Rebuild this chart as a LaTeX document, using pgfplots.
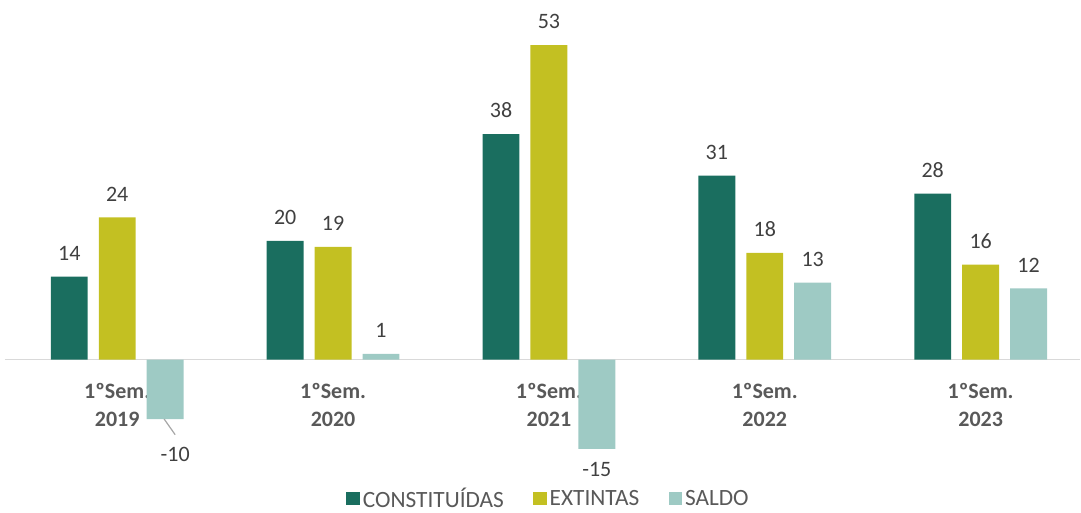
\documentclass[border=0pt]{standalone}
\usepackage{fontspec}
\setmainfont{Carlito}
\usepackage{pgfplots}
\pgfplotsset{compat=1.18}

\definecolor{cconst}{HTML}{1A6E5F}
\definecolor{cext}{HTML}{C3C022}
\definecolor{csaldo}{HTML}{9ECAC4}
\definecolor{cline}{HTML}{D9D9D9}
\definecolor{clab}{HTML}{404040}
\definecolor{ctick}{HTML}{595959}

\begin{document}
\begin{tikzpicture}
\begin{axis}[
  x=162pt, y=4.455pt,
  xmin=-0.52, xmax=4.46, ymin=-18, ymax=59,
  axis x line*=middle, axis y line=none,
  x axis line style={-, draw=cline, line width=1.1pt},
  xtick={0,1,2,3,4},
  xticklabels={{1ºSem.\\2019},{1ºSem.\\2020},{1ºSem.\\2021},{1ºSem.\\2022},{1ºSem.\\2023}},
  xticklabel style={align=center, font=\fontsize{16.5}{21.5}\selectfont\bfseries, text=ctick, yshift=-14pt},
  major tick length=0pt,
  ybar, bar width=0.171,
  clip=false,
  nodes near coords, point meta=explicit symbolic,
  nodes near coords style={font=\fontsize{16.5}{19}\selectfont, text=clab, anchor=south, yshift=8.5pt},
  legend style={at={(axis description cs:0.506,-0.070)}, anchor=center, draw=none,
    legend columns=-1, font=\fontsize{17.5}{20}\selectfont, text=ctick,
    inner sep=0pt, nodes={inner xsep=2pt, inner ysep=0pt},
    /tikz/every even column/.append style={column sep=20pt}},
  legend image code/.code={\fill[#1] (0pt,-5.2pt) rectangle (10.4pt,5.2pt);},
]
\addplot[fill=cconst, draw=none, bar shift=-0.222] coordinates {
  (0,14) [14] (1,20) [20] (2,38) [38] (3,31) [31] (4,28) [28]
};
\addplot[fill=cext, draw=none, bar shift=0] coordinates {
  (0,24) [24] (1,19) [19] (2,53) [53] (3,18) [18] (4,16) [16]
};
\addplot[fill=csaldo, draw=none, bar shift=0.222] coordinates {
  (0,-10) [] (1,1) [1] (2,-15) [] (3,13) [13] (4,12) [12]
};
\legend{CONSTITUÍDAS, EXTINTAS, SALDO}
\draw[gray!70, line width=0.9pt] (axis cs:0.2176,-10) -- (axis cs:0.2685,-12.63);
\node[font=\fontsize{16.5}{19}\selectfont, text=clab] at (axis cs:0.2685,-16.0) {-10};
\node[font=\fontsize{16.5}{19}\selectfont, text=clab] at (axis cs:2.222,-18.5) {-15};
\coordinate (bbsw) at (axis cs:-0.543,-25.76);
\coordinate (bbne) at (axis cs:4.465,60.6);
\end{axis}
\pgfresetboundingbox
\path[use as bounding box] (bbsw) rectangle (bbne);
\end{tikzpicture}
\end{document}
